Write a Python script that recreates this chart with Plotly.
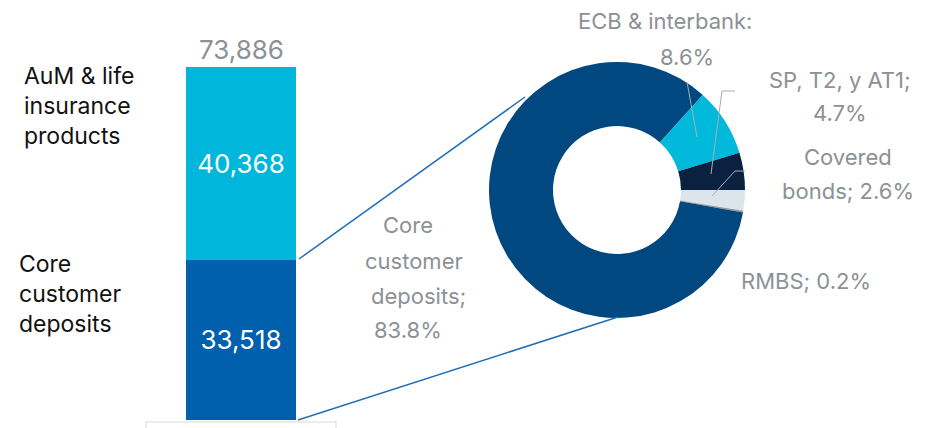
import plotly.graph_objects as go

W, H = 927, 428
OFF = 8  # page body margin of the browser

# bar data
bar_cats = ["Core customer deposits", "AuM & life insurance products"]
bar_vals = [33518, 40368]
bar_total = 73886
bar_colors = ["#0060AD", "#00B7DB"]

# donut data (percent of core customer deposits funding)
pie_labels = ["Covered bonds", "RMBS", "Core customer deposits", "ECB & interbank", "SP, T2, y AT1"]
pie_vals = [2.6, 0.2, 83.8, 8.6, 4.7]
pie_colors = ["#DCE5EC", "#9A9A9A", "#00487F", "#00B9DB", "#0A2240"]

FONT = "Inter"
GREY = "#8C9196"


def px(x):
    return (x - OFF) / W


def py(y):
    return 1 - (y - OFF) / H


fig = go.Figure()

for name, v, c in zip(bar_cats, bar_vals, bar_colors):
    fig.add_trace(go.Bar(
        x=[0], y=[v], name=name, marker_color=c, marker_line_width=0,
        width=0.584, text=[f"{v:,}"], textposition="inside",
        insidetextanchor="middle",
        textfont=dict(family=FONT, size=26, color="white"),
        hoverinfo="skip",
    ))

fig.add_trace(go.Pie(
    labels=pie_labels, values=pie_vals, hole=0.5, sort=False,
    direction="clockwise", rotation=90, textinfo="none",
    marker=dict(colors=pie_colors, line=dict(width=0)),
    domain=dict(x=[px(489), px(745)], y=[py(318), py(62)]),
    showlegend=False,
))

# total above the bar
fig.add_annotation(x=0, y=bar_total, xref="x", yref="y", text=f"{bar_total:,}",
                   showarrow=False, yanchor="bottom", yshift=0,
                   font=dict(family=FONT, size=26, color=GREY))

# left category labels
left_labels = [("AuM & life<br>insurance<br>products", 22, 106),
               ("Core<br>customer<br>deposits", 17, 294)]
for t, x, y in left_labels:
    fig.add_annotation(x=px(x), y=py(y), xref="paper", yref="paper", text=t,
                       showarrow=False, xanchor="left", yanchor="middle", align="left",
                       font=dict(family=FONT, size=23, color="#111111"))

# donut labels, one annotation per line
pie_text = [
    ("ECB & interbank:", 665, 21), ("8.6%", 687, 57),
    ("SP, T2, y AT1;", 840, 80), ("4.7%", 840, 113),
    ("Covered", 848, 157), ("bonds; 2.6%", 848, 191),
    ("RMBS; 0.2%", 806, 281),
    ("Core", 408, 225), ("customer", 414, 261), ("deposits;", 418, 296), ("83.8%", 408, 330),
]
for t, x, y in pie_text:
    fig.add_annotation(x=px(x), y=py(y), xref="paper", yref="paper", text=t,
                       showarrow=False, xanchor="center", yanchor="middle",
                       font=dict(family=FONT, size=22, color=GREY))

# connector lines bar -> donut
for x0, y0, x1, y1 in [(299, 259, 525, 97), (298, 420, 618, 317)]:
    fig.add_shape(type="line", xref="paper", yref="paper",
                  x0=px(x0), y0=py(y0), x1=px(x1), y1=py(y1),
                  line=dict(color="#1F6FB7", width=1.5))

# leader lines for donut labels
leaders = [
    [(687, 82), (697, 137)],
    [(735, 91), (722, 91), (711, 174)],
    [(745, 171), (735, 171), (712, 196)],
]
for pts in leaders:
    for (xa, ya), (xb, yb) in zip(pts[:-1], pts[1:]):
        fig.add_shape(type="line", xref="paper", yref="paper",
                      x0=px(xa), y0=py(ya), x1=px(xb), y1=py(yb),
                      line=dict(color="#A8ADB2", width=1))

# faint base box under the bar
fig.add_shape(type="rect", xref="paper", yref="paper",
              x0=px(146), x1=px(336), y0=py(440), y1=py(422),
              line=dict(color="#E6E6E6", width=1.5), fillcolor="rgba(0,0,0,0)")

fig.update_layout(
    width=W, height=H, barmode="stack", showlegend=False,
    paper_bgcolor="white", plot_bgcolor="white",
    margin=dict(l=0, r=0, t=0, b=0),
    uniformtext=dict(mode="show", minsize=10),
)
fig.update_xaxes(domain=[px(146), px(336)], range=[-0.5, 0.5], visible=False)
fig.update_yaxes(domain=[py(420), 1], range=[0, bar_total * 412 / 353], visible=False)

fig.write_html("out.html")
